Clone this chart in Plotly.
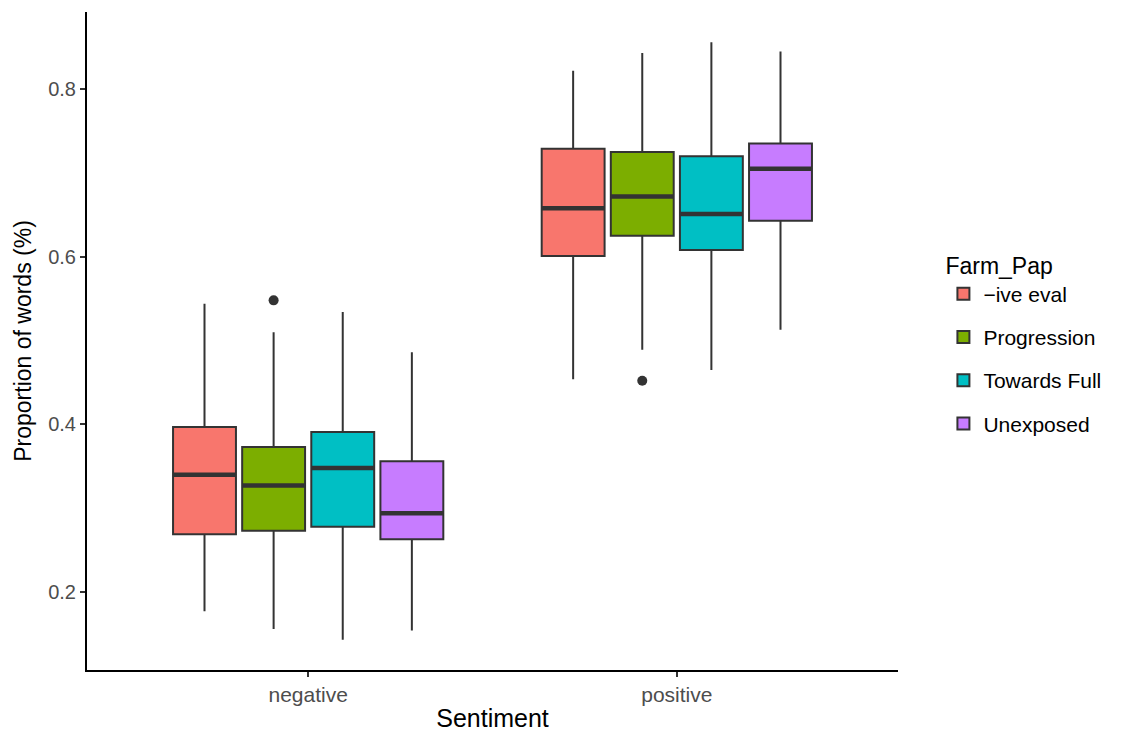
import plotly.graph_objects as go

sentiments = ["negative", "positive"]
groups = ["\u2212ive eval", "Progression", "Towards Full", "Unexposed"]
colors = ["#F8766D", "#7CAE00", "#00BFC4", "#C77CFF"]

# stats per group: [negative, positive]
lower = {
    "\u2212ive eval": [0.177, 0.454],
    "Progression": [0.156, 0.489],
    "Towards Full": [0.143, 0.465],
    "Unexposed": [0.154, 0.513],
}
q1 = {
    "\u2212ive eval": [0.269, 0.601],
    "Progression": [0.273, 0.625],
    "Towards Full": [0.278, 0.608],
    "Unexposed": [0.263, 0.643],
}
median = {
    "\u2212ive eval": [0.340, 0.658],
    "Progression": [0.327, 0.672],
    "Towards Full": [0.348, 0.651],
    "Unexposed": [0.294, 0.705],
}
q3 = {
    "\u2212ive eval": [0.397, 0.729],
    "Progression": [0.373, 0.725],
    "Towards Full": [0.391, 0.720],
    "Unexposed": [0.356, 0.735],
}
upper = {
    "\u2212ive eval": [0.544, 0.822],
    "Progression": [0.510, 0.843],
    "Towards Full": [0.534, 0.856],
    "Unexposed": [0.486, 0.845],
}
outliers = {
    "\u2212ive eval": [[], []],
    "Progression": [[0.548], [0.452]],
    "Towards Full": [[], []],
    "Unexposed": [[], []],
}

fig = go.Figure()
for g, c in zip(groups, colors):
    has_out = any(len(o) for o in outliers[g])
    fig.add_trace(go.Box(
        name=g,
        x=sentiments,
        y=outliers[g] if has_out else None,
        q1=q1[g], median=median[g], q3=q3[g],
        lowerfence=lower[g], upperfence=upper[g],
        offsetgroup=g,
        legendgroup=g,
        fillcolor=c,
        line=dict(color="#333333", width=2),
        whiskerwidth=0,
        boxpoints="outliers" if has_out else False,
        pointpos=0,
        jitter=0,
        marker=dict(color="#333333", size=10, line=dict(width=0)),
        hoverinfo="skip",
    ))
    # thicker median bar drawn on top (ggplot style)
    fig.add_trace(go.Box(
        name=g,
        x=sentiments,
        q1=median[g], median=median[g], q3=median[g],
        lowerfence=median[g], upperfence=median[g],
        offsetgroup=g,
        legendgroup=g,
        fillcolor="rgba(0,0,0,0)",
        line=dict(color="#333333", width=4.5),
        whiskerwidth=0,
        boxpoints=False,
        showlegend=False,
        hoverinfo="skip",
    ))

fig.update_layout(
    width=1123, height=736,
    paper_bgcolor="white", plot_bgcolor="white",
    boxmode="group", boxgap=0.25, boxgroupgap=0.09,
    margin=dict(l=87, r=225, t=12, b=66),
    font=dict(family="Liberation Sans, Arial, sans-serif", color="#000000"),
    legend=dict(
        title=dict(text="Farm_Pap", font=dict(size=23, color="#000000")),
        font=dict(size=21, color="#000000"),
        x=1.056, xanchor="left", y=0.648, yanchor="top",
        tracegroupgap=13, itemsizing="constant",
    ),
    showlegend=True,
)
fig.update_xaxes(
    title=dict(text="Sentiment", font=dict(size=25, color="#000000"), standoff=4),
    range=[-0.6, 1.6], automargin=False,
    showline=True, linecolor="#000000", linewidth=2,
    ticks="outside", ticklen=5, tickcolor="#333333", tickwidth=2,
    tickfont=dict(size=21, color="#4D4D4D"),
    showgrid=False, zeroline=False,
)
fig.update_yaxes(
    title=dict(text="Proportion of words (%)", font=dict(size=23, color="#000000"), standoff=10),
    range=[0.107, 0.892], automargin=False,
    tickvals=[0.2, 0.4, 0.6, 0.8], tickformat=".1f",
    showline=True, linecolor="#000000", linewidth=2,
    ticks="outside", ticklen=5, tickcolor="#333333", tickwidth=2,
    tickfont=dict(size=20, color="#4D4D4D"),
    showgrid=False, zeroline=False,
)

fig.write_html("out.html")
